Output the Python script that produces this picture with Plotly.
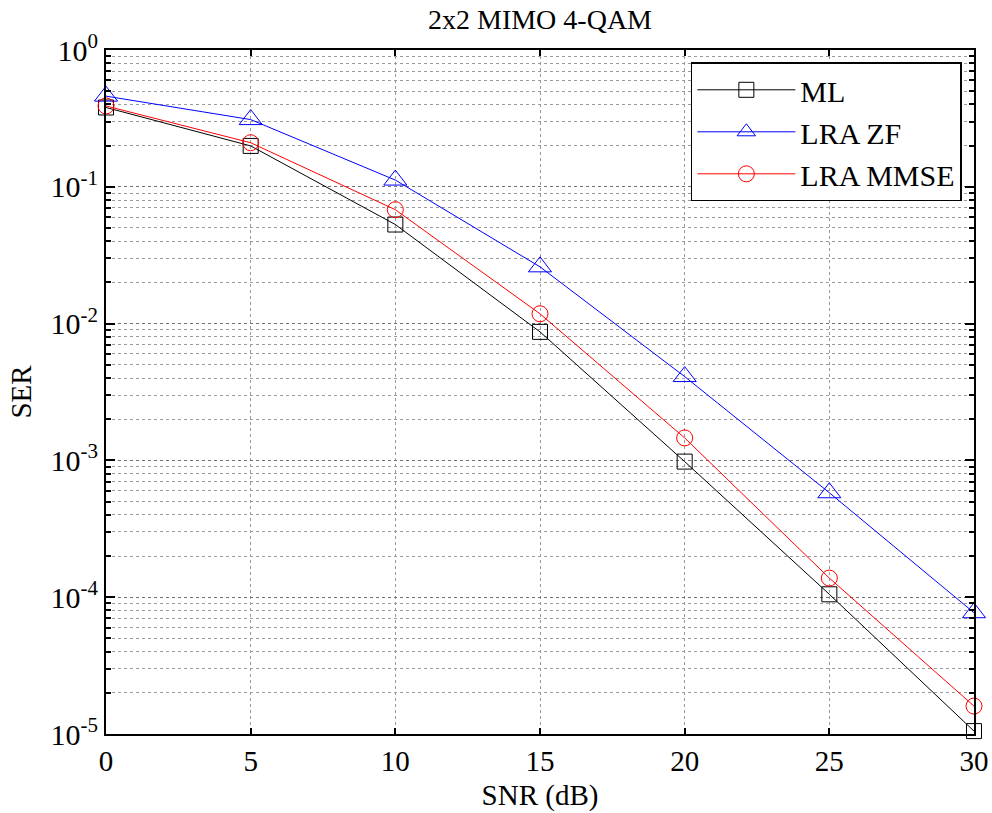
import plotly.graph_objects as go

# SER vs SNR for a 2x2 MIMO system with 4-QAM
snr_db = [0, 5, 10, 15, 20, 25, 30]
ser_ml = [0.38, 0.199, 0.053, 0.0087, 9.8e-4, 1.05e-4, 1.05e-5]
ser_lra_zf = [0.46, 0.31, 0.112, 0.026, 0.0041, 5.8e-4, 7.7e-5]
ser_lra_mmse = [0.39, 0.21, 0.068, 0.0118, 1.46e-3, 1.38e-4, 1.6e-5]

x_ticks = [0, 5, 10, 15, 20, 25, 30]
y_decades = [-5, -4, -3, -2, -1, 0]
y_tick_vals = [10.0 ** e for e in y_decades]
y_tick_text = ["10<sup>%d</sup>" % e for e in y_decades]
y_minor_vals = [k * 10.0 ** e for e in range(-5, 0) for k in range(2, 10)]

FONT = "Liberation Serif, Times New Roman, serif"

series = [
    ("ML", ser_ml, "black", "square-open", 15),
    ("LRA ZF", ser_lra_zf, "blue", "triangle-up-open", 20),
    ("LRA MMSE", ser_lra_mmse, "red", "circle-open", 16),
]

fig = go.Figure()
for name, vals, color, symbol, size in series:
    fig.add_trace(go.Scatter(
        x=snr_db, y=vals, name=name, mode="lines+markers",
        line=dict(color=color, width=1),
        marker=dict(symbol=symbol, size=size, color=color,
                    line=dict(color=color, width=1)),
        cliponaxis=False,
    ))

grid_color = "#9a9a9a"

fig.update_layout(
    width=992, height=813,
    margin=dict(l=106, r=18, t=50, b=79, autoexpand=False),
    paper_bgcolor="white", plot_bgcolor="white",
    font=dict(family=FONT, size=29, color="black"),
    title=dict(text="2x2 MIMO 4-QAM", x=0.5, xref="paper", xanchor="center",
               y=1 - 19 / 813, yanchor="middle",
               font=dict(size=28, family=FONT)),
    showlegend=True,
    legend=dict(
        x=0.986, y=0.982, xanchor="right", yanchor="top",
        bgcolor="white", bordercolor="black", borderwidth=1.5,
        font=dict(size=30, family=FONT),
        itemwidth=98,
    ),
)

fig.update_xaxes(
    range=[0, 30], tickvals=x_ticks, ticks="inside", ticklen=6,
    tickcolor="black", tickwidth=1.5, automargin=False,
    showline=True, linecolor="black", linewidth=2, mirror="ticks",
    showgrid=True, gridcolor=grid_color, griddash="dot", gridwidth=1,
    zeroline=False, tickfont=dict(size=29, family=FONT),
    title=dict(text="SNR (dB)", font=dict(size=29, family=FONT), standoff=9),
)

fig.update_yaxes(
    type="log", range=[-5, 0], tickvals=y_tick_vals, ticktext=y_tick_text,
    ticks="inside", ticklen=9, tickcolor="black", tickwidth=2, automargin=False,
    showline=True, linecolor="black", linewidth=2, mirror="ticks",
    showgrid=True, gridcolor="#707070", griddash="dot", gridwidth=1,
    zeroline=False, tickfont=dict(size=30, family=FONT),
    minor=dict(tickvals=y_minor_vals, ticks="inside", ticklen=5,
               tickcolor="black", tickwidth=2, showgrid=True,
               gridcolor=grid_color, griddash="dot", gridwidth=1),
    title=dict(text="SER", font=dict(size=29, family=FONT), standoff=10),
)

fig.write_html("out.html")
